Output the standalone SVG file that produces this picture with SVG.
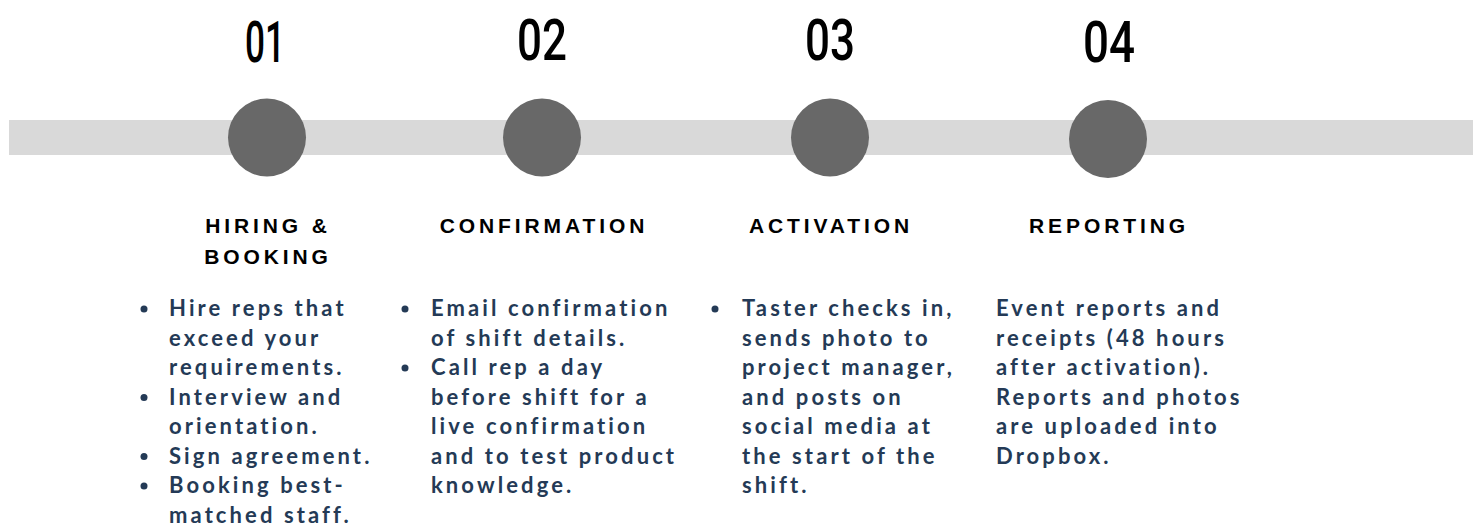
<svg xmlns="http://www.w3.org/2000/svg" width="1473" height="529" viewBox="0 0 1473 529">
<style>
.num{font-family:Roboto,"Liberation Sans",Arial,sans-serif;font-weight:500;font-size:58px;fill:#000}
.hd{font-family:"Liberation Sans",Arial,sans-serif;font-weight:bold;font-size:21px;letter-spacing:3.9px;fill:#000;text-anchor:middle}
.tx{font-family:Lato,"Noto Sans",sans-serif;font-weight:bold;font-size:22px;letter-spacing:3.1px;fill:#243a56}
.dot{fill:#243a56}
.node{fill:#686868}
</style>
<rect x="9" y="120" width="1464" height="35" fill="#d9d9d9"/>
<g id="connectors"></g>
<g id="step1">
<circle class="node" cx="267" cy="137.5" r="39"/>
<text class="num" x="245" y="62" textLength="40" lengthAdjust="spacingAndGlyphs">01</text>
<text class="hd" x="268" y="233">HIRING &amp;</text>
<text class="hd" x="268" y="264">BOOKING</text>
<circle class="dot" cx="144" cy="309" r="3.5"/>
<circle class="dot" cx="144" cy="397.5" r="3.5"/>
<circle class="dot" cx="144" cy="456.5" r="3.5"/>
<circle class="dot" cx="144" cy="486" r="3.5"/>
<text class="tx" x="169" y="316">Hire reps that</text>
<text class="tx" x="169" y="345.5">exceed your</text>
<text class="tx" x="169" y="375">requirements.</text>
<text class="tx" x="169" y="404.5">Interview and</text>
<text class="tx" x="169" y="434">orientation.</text>
<text class="tx" x="169" y="463.5">Sign agreement.</text>
<text class="tx" x="169" y="493">Booking best-</text>
<text class="tx" x="169" y="522.5">matched staff.</text>
</g>
<g id="step2">
<circle class="node" cx="542" cy="137.5" r="39"/>
<text class="num" x="517" y="60" textLength="50" lengthAdjust="spacingAndGlyphs">02</text>
<text class="hd" x="544" y="233">CONFIRMATION</text>
<circle class="dot" cx="405" cy="309" r="3.5"/>
<circle class="dot" cx="405" cy="368" r="3.5"/>
<text class="tx" x="431" y="316">Email confirmation</text>
<text class="tx" x="431" y="345.5">of shift details.</text>
<text class="tx" x="431" y="375">Call rep a day</text>
<text class="tx" x="431" y="404.5">before shift for a</text>
<text class="tx" x="431" y="434">live confirmation</text>
<text class="tx" x="431" y="463.5">and to test product</text>
<text class="tx" x="431" y="493">knowledge.</text>
</g>
<g id="step3">
<circle class="node" cx="830" cy="137.5" r="39"/>
<text class="num" x="805" y="60" textLength="50" lengthAdjust="spacingAndGlyphs">03</text>
<text class="hd" x="831" y="233">ACTIVATION</text>
<circle class="dot" cx="715" cy="309" r="3.5"/>
<text class="tx" x="742" y="316">Taster checks in,</text>
<text class="tx" x="742" y="345.5">sends photo to</text>
<text class="tx" x="742" y="375">project manager,</text>
<text class="tx" x="742" y="404.5">and posts on</text>
<text class="tx" x="742" y="434">social media at</text>
<text class="tx" x="742" y="463.5">the start of the</text>
<text class="tx" x="742" y="493">shift.</text>
</g>
<g id="step4">
<circle class="node" cx="1108" cy="139" r="39"/>
<text class="num" x="1083" y="62" textLength="52" lengthAdjust="spacingAndGlyphs">04</text>
<text class="hd" x="1109" y="233">REPORTING</text>
<text class="tx" x="996" y="316">Event reports and</text>
<text class="tx" x="996" y="345.5">receipts (48 hours</text>
<text class="tx" x="996" y="375">after activation).</text>
<text class="tx" x="996" y="404.5">Reports and photos</text>
<text class="tx" x="996" y="434">are uploaded into</text>
<text class="tx" x="996" y="463.5">Dropbox.</text>
</g>
</svg>
